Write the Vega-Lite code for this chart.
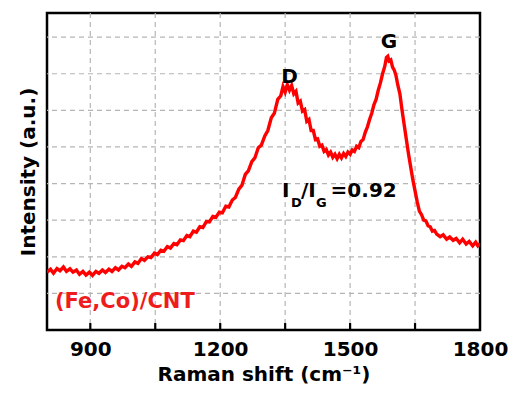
{
  "$schema": "https://vega.github.io/schema/vega-lite/v6.json",
  "width": 433,
  "height": 317,
  "autosize": {"type": "none"},
  "padding": {"left": 47, "top": 13, "right": 34, "bottom": 67},
  "background": "white",
  "config": {
    "view": {"stroke": "black", "strokeWidth": 2.5},
    "font": "DejaVu Sans"
  },
  "datasets": {
    "spectrum": [
      {"shift": 800, "intensity": 1.58}, {"shift": 808, "intensity": 1.66}, {"shift": 815, "intensity": 1.55}, {"shift": 823, "intensity": 1.68},
      {"shift": 830, "intensity": 1.62}, {"shift": 838, "intensity": 1.72}, {"shift": 845, "intensity": 1.60}, {"shift": 853, "intensity": 1.67},
      {"shift": 860, "intensity": 1.58}, {"shift": 868, "intensity": 1.64}, {"shift": 875, "intensity": 1.52}, {"shift": 883, "intensity": 1.60},
      {"shift": 890, "intensity": 1.50}, {"shift": 898, "intensity": 1.58}, {"shift": 905, "intensity": 1.49}, {"shift": 913, "intensity": 1.60},
      {"shift": 920, "intensity": 1.55}, {"shift": 928, "intensity": 1.64}, {"shift": 935, "intensity": 1.57}, {"shift": 943, "intensity": 1.66},
      {"shift": 950, "intensity": 1.60}, {"shift": 958, "intensity": 1.70}, {"shift": 965, "intensity": 1.64}, {"shift": 973, "intensity": 1.74},
      {"shift": 980, "intensity": 1.70}, {"shift": 988, "intensity": 1.80}, {"shift": 995, "intensity": 1.74}, {"shift": 1003, "intensity": 1.86},
      {"shift": 1010, "intensity": 1.82}, {"shift": 1018, "intensity": 1.95}, {"shift": 1025, "intensity": 1.90}, {"shift": 1033, "intensity": 2.00},
      {"shift": 1040, "intensity": 1.98}, {"shift": 1048, "intensity": 2.10}, {"shift": 1055, "intensity": 2.06}, {"shift": 1063, "intensity": 2.18},
      {"shift": 1070, "intensity": 2.15}, {"shift": 1078, "intensity": 2.28}, {"shift": 1085, "intensity": 2.24}, {"shift": 1093, "intensity": 2.36},
      {"shift": 1100, "intensity": 2.33}, {"shift": 1108, "intensity": 2.46}, {"shift": 1115, "intensity": 2.44}, {"shift": 1123, "intensity": 2.58},
      {"shift": 1130, "intensity": 2.55}, {"shift": 1138, "intensity": 2.70}, {"shift": 1145, "intensity": 2.67}, {"shift": 1153, "intensity": 2.82},
      {"shift": 1160, "intensity": 2.80}, {"shift": 1168, "intensity": 2.96}, {"shift": 1175, "intensity": 2.95}, {"shift": 1183, "intensity": 3.10},
      {"shift": 1190, "intensity": 3.08}, {"shift": 1198, "intensity": 3.22}, {"shift": 1205, "intensity": 3.20}, {"shift": 1213, "intensity": 3.38},
      {"shift": 1220, "intensity": 3.36}, {"shift": 1228, "intensity": 3.55}, {"shift": 1235, "intensity": 3.62}, {"shift": 1243, "intensity": 3.85},
      {"shift": 1250, "intensity": 3.95}, {"shift": 1258, "intensity": 4.25}, {"shift": 1265, "intensity": 4.35}, {"shift": 1273, "intensity": 4.60},
      {"shift": 1280, "intensity": 4.70}, {"shift": 1288, "intensity": 4.98}, {"shift": 1295, "intensity": 5.05}, {"shift": 1303, "intensity": 5.30},
      {"shift": 1310, "intensity": 5.45}, {"shift": 1318, "intensity": 5.80}, {"shift": 1325, "intensity": 5.92}, {"shift": 1333, "intensity": 6.30},
      {"shift": 1340, "intensity": 6.40}, {"shift": 1345, "intensity": 6.65}, {"shift": 1350, "intensity": 6.50}, {"shift": 1355, "intensity": 6.70},
      {"shift": 1360, "intensity": 6.55}, {"shift": 1365, "intensity": 6.68}, {"shift": 1370, "intensity": 6.45}, {"shift": 1375, "intensity": 6.52},
      {"shift": 1380, "intensity": 6.20}, {"shift": 1385, "intensity": 6.25}, {"shift": 1390, "intensity": 5.98}, {"shift": 1395, "intensity": 6.02},
      {"shift": 1400, "intensity": 5.70}, {"shift": 1405, "intensity": 5.75}, {"shift": 1410, "intensity": 5.45}, {"shift": 1415, "intensity": 5.45},
      {"shift": 1420, "intensity": 5.20}, {"shift": 1425, "intensity": 5.22}, {"shift": 1430, "intensity": 5.02}, {"shift": 1435, "intensity": 5.05},
      {"shift": 1440, "intensity": 4.88}, {"shift": 1445, "intensity": 4.93}, {"shift": 1450, "intensity": 4.78}, {"shift": 1455, "intensity": 4.86},
      {"shift": 1460, "intensity": 4.72}, {"shift": 1465, "intensity": 4.80}, {"shift": 1470, "intensity": 4.68}, {"shift": 1475, "intensity": 4.80},
      {"shift": 1480, "intensity": 4.70}, {"shift": 1485, "intensity": 4.82}, {"shift": 1490, "intensity": 4.74}, {"shift": 1495, "intensity": 4.86},
      {"shift": 1500, "intensity": 4.80}, {"shift": 1505, "intensity": 4.92}, {"shift": 1510, "intensity": 4.88}, {"shift": 1515, "intensity": 5.02},
      {"shift": 1520, "intensity": 4.98}, {"shift": 1525, "intensity": 5.15}, {"shift": 1530, "intensity": 5.20}, {"shift": 1535, "intensity": 5.40},
      {"shift": 1540, "intensity": 5.55}, {"shift": 1545, "intensity": 5.75}, {"shift": 1550, "intensity": 5.92}, {"shift": 1555, "intensity": 6.15},
      {"shift": 1560, "intensity": 6.30}, {"shift": 1565, "intensity": 6.55}, {"shift": 1570, "intensity": 6.75}, {"shift": 1575, "intensity": 7.00},
      {"shift": 1580, "intensity": 7.20}, {"shift": 1584, "intensity": 7.45}, {"shift": 1587, "intensity": 7.48}, {"shift": 1590, "intensity": 7.35},
      {"shift": 1594, "intensity": 7.38}, {"shift": 1598, "intensity": 7.18}, {"shift": 1602, "intensity": 7.10}, {"shift": 1606, "intensity": 6.95},
      {"shift": 1610, "intensity": 6.70}, {"shift": 1615, "intensity": 6.45}, {"shift": 1620, "intensity": 6.00}, {"shift": 1625, "intensity": 5.60},
      {"shift": 1630, "intensity": 5.20}, {"shift": 1635, "intensity": 4.80}, {"shift": 1640, "intensity": 4.45}, {"shift": 1645, "intensity": 4.10},
      {"shift": 1650, "intensity": 3.80}, {"shift": 1655, "intensity": 3.50}, {"shift": 1660, "intensity": 3.25}, {"shift": 1665, "intensity": 3.15},
      {"shift": 1670, "intensity": 3.00}, {"shift": 1675, "intensity": 2.98}, {"shift": 1680, "intensity": 2.85}, {"shift": 1685, "intensity": 2.82},
      {"shift": 1690, "intensity": 2.70}, {"shift": 1695, "intensity": 2.72}, {"shift": 1700, "intensity": 2.62}, {"shift": 1708, "intensity": 2.55},
      {"shift": 1715, "intensity": 2.60}, {"shift": 1723, "intensity": 2.48}, {"shift": 1730, "intensity": 2.54}, {"shift": 1738, "intensity": 2.45},
      {"shift": 1745, "intensity": 2.50}, {"shift": 1753, "intensity": 2.38}, {"shift": 1760, "intensity": 2.48}, {"shift": 1768, "intensity": 2.35},
      {"shift": 1775, "intensity": 2.42}, {"shift": 1783, "intensity": 2.30}, {"shift": 1790, "intensity": 2.40}, {"shift": 1795, "intensity": 2.30},
      {"shift": 1800, "intensity": 2.36}
    ],
    "vgrid": [
      {"shift": 900}, {"shift": 1050}, {"shift": 1200}, {"shift": 1350}, {"shift": 1500}, {"shift": 1650}
    ],
    "hgrid": [
      {"intensity": 1}, {"intensity": 2}, {"intensity": 3}, {"intensity": 4},
      {"intensity": 5}, {"intensity": 6}, {"intensity": 7}, {"intensity": 8}
    ],
    "peaks": [
      {"shift": 1360, "intensity": 6.75, "label": "D"},
      {"shift": 1590, "intensity": 7.70, "label": "G"}
    ],
    "ratioMain": [
      {"shift": 1342.7, "intensity": 3.63, "label": "I"},
      {"shift": 1386.6, "intensity": 3.63, "label": "/I"},
      {"shift": 1455, "intensity": 3.63, "label": "=0.92"}
    ],
    "ratioSub": [
      {"shift": 1363.5, "intensity": 3.36, "label": "D"},
      {"shift": 1421.3, "intensity": 3.36, "label": "G"}
    ],
    "sample": [
      {"shift": 818.5, "intensity": 0.60, "label": "(Fe,Co)/CNT"}
    ]
  },
  "layer": [
    {
      "data": {"name": "vgrid"},
      "mark": {"type": "rule", "color": "#b5b5b5", "strokeWidth": 1.2, "strokeDash": [5, 4]},
      "encoding": {
        "x": {
          "field": "shift", "type": "quantitative",
          "scale": {"domain": [800, 1800], "nice": false, "zero": false},
          "axis": {
            "title": "Raman shift (cm⁻¹)",
            "values": [900, 1200, 1500, 1800],
            "format": "d",
            "labelOverlap": false, "labelFlush": false,
            "grid": false, "domain": false, "ticks": false,
            "labelFont": "DejaVu Sans", "labelFontWeight": "bold", "labelFontSize": 20, "labelColor": "black", "labelPadding": 9,
            "titleFont": "DejaVu Sans", "titleFontWeight": "bold", "titleFontSize": 20, "titleColor": "black", "titlePadding": 5
          }
        }
      }
    },
    {
      "data": {"name": "hgrid"},
      "mark": {"type": "rule", "color": "#b5b5b5", "strokeWidth": 1.2, "strokeDash": [5, 4]},
      "encoding": {
        "y": {
          "field": "intensity", "type": "quantitative",
          "scale": {"domain": [0, 8.66], "nice": false, "zero": false},
          "axis": {
            "title": "Intensity (a.u.)",
            "labels": false, "ticks": false, "domain": false, "grid": false,
            "titleFont": "DejaVu Sans", "titleFontWeight": "bold", "titleFontSize": 20, "titleColor": "black", "titlePadding": 9
          }
        }
      }
    },
    {
      "data": {"name": "spectrum"},
      "mark": {"type": "line", "color": "#ff0000", "strokeWidth": 3.4, "clip": true},
      "encoding": {
        "x": {"field": "shift", "type": "quantitative"},
        "y": {"field": "intensity", "type": "quantitative"}
      }
    },
    {
      "data": {"name": "vgrid"},
      "mark": {"type": "rule", "color": "black", "strokeWidth": 2.2},
      "encoding": {
        "x": {"field": "shift", "type": "quantitative"},
        "y": {"datum": 0},
        "y2": {"datum": 0.19}
      }
    },
    {
      "data": {"name": "peaks"},
      "mark": {"type": "text", "font": "DejaVu Sans", "fontWeight": "bold", "fontSize": 20, "color": "black", "align": "center", "baseline": "alphabetic"},
      "encoding": {
        "x": {"field": "shift", "type": "quantitative"},
        "y": {"field": "intensity", "type": "quantitative"},
        "text": {"field": "label"}
      }
    },
    {
      "data": {"name": "ratioMain"},
      "mark": {"type": "text", "font": "DejaVu Sans", "fontWeight": "bold", "fontSize": 20, "color": "black", "align": "left", "baseline": "alphabetic"},
      "encoding": {
        "x": {"field": "shift", "type": "quantitative"},
        "y": {"field": "intensity", "type": "quantitative"},
        "text": {"field": "label"}
      }
    },
    {
      "data": {"name": "ratioSub"},
      "mark": {"type": "text", "font": "DejaVu Sans", "fontWeight": "bold", "fontSize": 13, "color": "black", "align": "left", "baseline": "alphabetic"},
      "encoding": {
        "x": {"field": "shift", "type": "quantitative"},
        "y": {"field": "intensity", "type": "quantitative"},
        "text": {"field": "label"}
      }
    },
    {
      "data": {"name": "sample"},
      "mark": {"type": "text", "font": "DejaVu Sans", "fontWeight": "bold", "fontSize": 21, "color": "#ee1c1c", "align": "left", "baseline": "alphabetic"},
      "encoding": {
        "x": {"field": "shift", "type": "quantitative"},
        "y": {"field": "intensity", "type": "quantitative"},
        "text": {"field": "label"}
      }
    }
  ]
}
